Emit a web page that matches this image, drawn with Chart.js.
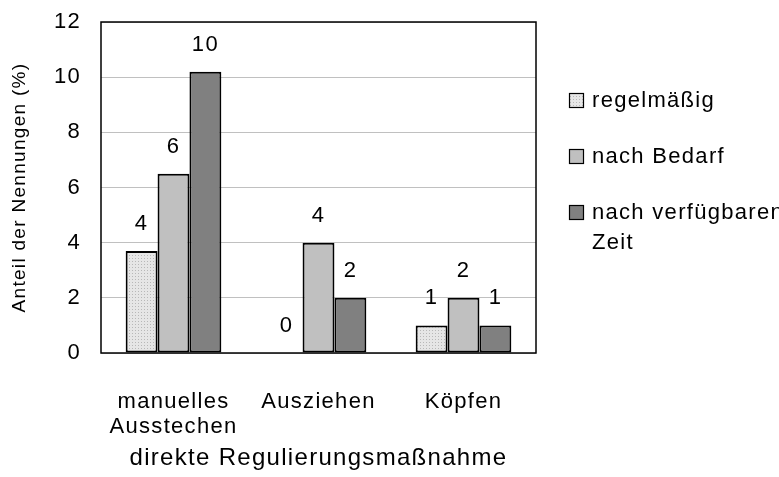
<!DOCTYPE html>
<html>
<head>
<meta charset="utf-8">
<script src="https://cdn.jsdelivr.net/npm/chart.js@4.4.0/dist/chart.umd.min.js"></script>
<style>
  html, body { margin: 0; padding: 0; background: #ffffff; }
  canvas { display: block; }
</style>
</head>
<body>
<canvas id="chart" width="779" height="477"></canvas>
<script>
// values
let categories = [["manuelles", "Ausstechen"], "Ausziehen", "Köpfen"];
let seriesNames = [["regelmäßig"], ["nach Bedarf"], ["nach verfügbaren", "Zeit"]];
let regelmaessig = [3.7, 0, 1];
let nachBedarf = [6.5, 4, 2];
let nachZeit = [10.2, 2, 1];

// numbers printed above the bars (rounded in the original)
let regelmaessigLabels = ["4", "0", "1"];
let nachBedarfLabels = ["6", "4", "2"];
let nachZeitLabels = ["10", "2", "1"];

let yTicks = [0, 2, 4, 6, 8, 10, 12];

//dotted fill for the first series
let makeDots = () => {
  let tile = document.createElement("canvas");
  tile.width = 3;
  tile.height = 3;
  let t = tile.getContext("2d");
  t.fillStyle = "#e6e6e6";
  t.fillRect(0, 0, 3, 3);
  t.fillStyle = "#b8b8b8";
  t.fillRect(0, 0, 1, 1);
  return document.createElement("canvas").getContext("2d").createPattern(tile, "repeat");
};

let spacing = "1.3px";
let fontName = "'Liberation Sans', Arial, sans-serif";

let extras = {
  id: "extras",
  beforeLayout(chart) {
    chart.ctx.letterSpacing = spacing;
  },
  beforeDraw(chart) {
    chart.ctx.letterSpacing = spacing;
  },
  //box round the plot area
  beforeDatasetsDraw(chart) {
    let { ctx, chartArea: a } = chart;
    ctx.save();
    ctx.strokeStyle = "#000000";
    ctx.lineWidth = 1.5;
    ctx.strokeRect(a.left, a.top, a.right - a.left, a.bottom - a.top);
    ctx.restore();
  },
  afterDatasetsDraw(chart) {
    let ctx = chart.ctx;
    ctx.save();
    ctx.font = "22px " + fontName;
    ctx.fillStyle = "#000000";
    ctx.textAlign = "center";
    ctx.textBaseline = "middle";
    chart.data.datasets.forEach((ds, i) => {
      chart.getDatasetMeta(i).data.forEach((bar, j) => {
        ctx.fillText(ds.valueLabels[j], bar.x, bar.y - 27);
      });
    });
    ctx.restore();
  },
  //legend drawn by hand so the last entry can wrap
  afterDraw(chart) {
    let ctx = chart.ctx;
    ctx.save();
    ctx.font = "22px " + fontName;
    ctx.textAlign = "left";
    ctx.textBaseline = "middle";
    chart.data.datasets.forEach((ds, i) => {
      let y = 93 + i * 56;
      ctx.fillStyle = ds.backgroundColor;
      ctx.fillRect(569, y, 15, 15);
      ctx.strokeStyle = "#000000";
      ctx.lineWidth = 1.2;
      ctx.strokeRect(569.5, y + 0.5, 14, 14);
      ctx.fillStyle = "#000000";
      ds.legendLines.forEach((line, k) => {
        ctx.fillText(line, 592, y + 8 + k * 30);
      });
    });
    ctx.restore();
  },
};

Chart.defaults.font.family = fontName;
Chart.defaults.font.size = 22;
Chart.defaults.color = "#000000";

let myChart = new Chart(document.getElementById("chart"), {
  type: "bar",
  data: {
    labels: categories,
    datasets: [
      {
        label: seriesNames[0].join(" "),
        legendLines: seriesNames[0],
        data: regelmaessig,
        valueLabels: regelmaessigLabels,
        backgroundColor: makeDots(),
      },
      {
        label: seriesNames[1].join(" "),
        legendLines: seriesNames[1],
        data: nachBedarf,
        valueLabels: nachBedarfLabels,
        backgroundColor: "#c0c0c0",
      },
      {
        label: seriesNames[2].join(" "),
        legendLines: seriesNames[2],
        data: nachZeit,
        valueLabels: nachZeitLabels,
        backgroundColor: "#808080",
      },
    ],
  },
  plugins: [extras],
  options: {
    responsive: false,
    devicePixelRatio: 1,
    animation: false,
    layout: { padding: { top: 22, right: 243, left: 0, bottom: 0 } },
    datasets: {
      bar: {
        borderColor: "#000000",
        borderWidth: 2,
        borderSkipped: false,
        barPercentage: 1,
        categoryPercentage: 0.66,
      },
    },
    plugins: {
      legend: { display: false },
      tooltip: { enabled: false },
    },
    scales: {
      x: {
        grid: { display: false },
        border: { display: false },
        ticks: { padding: 28, maxRotation: 0, autoSkip: false, font: { lineHeight: 1.15 } },
        title: {
          display: true,
          text: "direkte Regulierungsmaßnahme",
          font: { size: 24 },
          padding: { top: 0, bottom: 4 },
        },
        afterFit(scale) {
          scale.height = 124;
        },
      },
      y: {
        min: 0,
        max: 12,
        afterBuildTicks(scale) {
          scale.ticks = yTicks.map((v) => ({ value: v }));
        },
        //invisible tick marks keep the labels away from the axis
        grid: {
          color: "#c0c0c0",
          lineWidth: 1,
          drawTicks: true,
          tickLength: 20,
          tickColor: "rgba(0,0,0,0)",
        },
        border: { display: false },
        ticks: { padding: 0 },
        title: {
          display: true,
          text: "Anteil der Nennungen (%)",
          font: { size: 19 },
          padding: { top: 8, bottom: 0 },
        },
        afterFit(scale) {
          scale.width = 101;
        },
      },
    },
  },
});
</script>
</body>
</html>
